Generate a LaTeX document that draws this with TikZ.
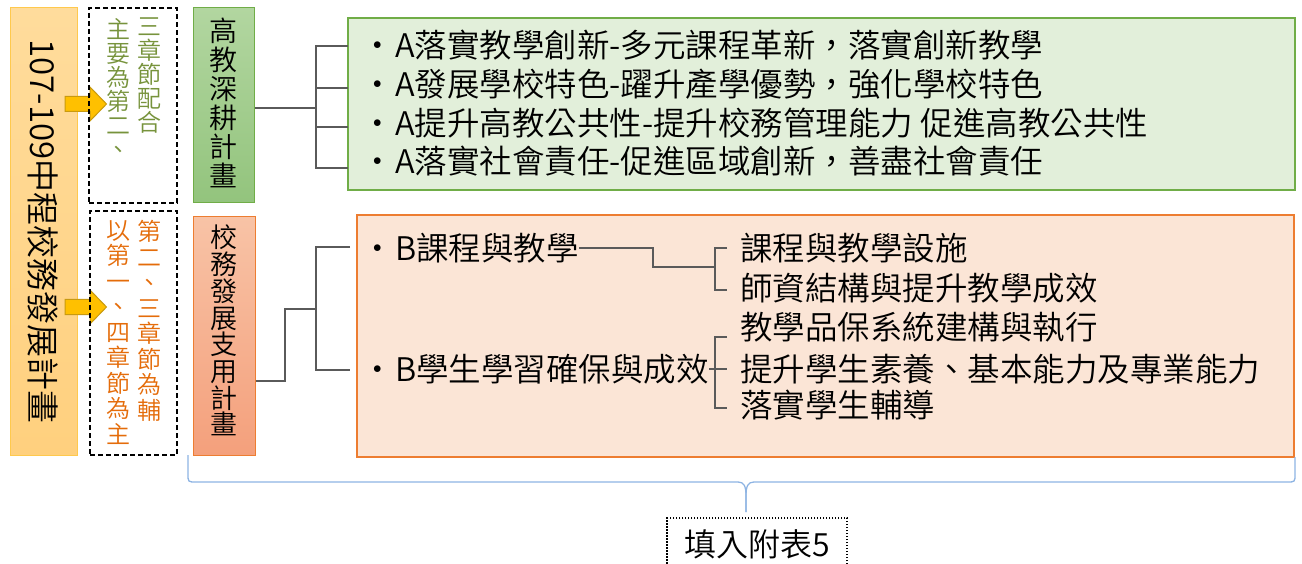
\documentclass[tikz,border=0pt]{standalone}
\usepackage{fontspec}
\IfFontExistsTF{Noto Sans CJK TC DemiLight}{\setmainfont{Noto Sans CJK TC DemiLight}}{\setmainfont{Noto Sans CJK TC}}
\usepackage{graphicx}
\definecolor{lborder}{HTML}{FFC94D}
\definecolor{ltop}{HTML}{FFDC9C}
\definecolor{lbot}{HTML}{FFD07E}
\definecolor{arrfill}{HTML}{FFC000}
\definecolor{arrline}{HTML}{C89A10}
\definecolor{gsmtop}{HTML}{B2D6A0}
\definecolor{gsmbot}{HTML}{93C47D}
\definecolor{gline}{HTML}{70AD47}
\definecolor{osmtop}{HTML}{F8C3A6}
\definecolor{osmbot}{HTML}{F4A07C}
\definecolor{oline}{HTML}{ED7D31}
\definecolor{gbigfill}{HTML}{E2EFDA}
\definecolor{obigfill}{HTML}{FBE5D6}
\definecolor{gtextc}{HTML}{77933C}
\definecolor{otextc}{HTML}{E46C0A}
\definecolor{connc}{HTML}{5A5A5A}
\definecolor{bracec}{HTML}{8EB4E3}
\newcommand{\bul}{\makebox[23pt][l]{\hspace{-11pt}•}}
\begin{document}
\lineskiplimit=-100pt
\begin{tikzpicture}[x=1pt,y=-1pt,
  conn/.style={draw=connc, line width=1.3pt},
  bracepath/.style={draw=bracec, line width=1.3pt},
  leftbox/.style={draw=lborder, line width=1pt, top color=ltop, bottom color=lbot, inner sep=0pt,
    minimum width=67pt, minimum height=447pt, font=\fontsize{33}{33}\selectfont},
  arrowshape/.style={fill=arrfill, draw=arrline, line width=1pt},
  dbox/.style={draw=black, line width=1.5pt, dash pattern=on 5pt off 3pt, inner sep=0pt},
  gsmall/.style={draw=gline, line width=1pt, top color=gsmtop, bottom color=gsmbot, inner sep=0pt},
  osmall/.style={draw=oline, line width=1pt, top color=osmtop, bottom color=osmbot, inner sep=0pt},
  gbig/.style={draw=gline, line width=2pt, fill=gbigfill, inner sep=0pt},
  obig/.style={draw=oline, line width=2pt, fill=obigfill, inner sep=0pt},
  colg/.style={text=gtextc, align=center, inner sep=0pt, anchor=north,
    font=\fontsize{24}{24}\selectfont},
  colo/.style={text=otextc, align=center, inner sep=0pt, anchor=north,
    font=\fontsize{24}{25.5}\selectfont},
  colbox/.style={text=black, align=center, inner sep=0pt, anchor=north},
  ltext/.style={text=black, inner sep=0pt, anchor=west, font=\fontsize{32.5}{39}\selectfont},
  notebox/.style={draw=black, line width=1.5pt, dash pattern=on 1.5pt off 1.5pt, inner sep=0pt,
    minimum width=180pt, minimum height=52pt, font=\fontsize{32}{32}\selectfont}
]
\useasboundingbox (0,0) rectangle (1302,564);
\clip (0,0) rectangle (1302,564);

% left main box
\node[leftbox] (plan) at (43.5,231.5) {\rotatebox{-90}{107-109中程校務發展計畫}};

% arrows
\draw[arrowshape] (65,96.5) -- (90,96.5) -- (90,87) -- (106.5,104) -- (90,121) -- (90,111.5) -- (65,111.5) -- cycle;
\draw[arrowshape] (65,299.5) -- (90,299.5) -- (90,290) -- (106.5,307) -- (90,324) -- (90,314.5) -- (65,314.5) -- cycle;

% dashed boxes
\node[dbox, minimum width=88pt, minimum height=195pt] (d1) at (133,105.5) {};
\node[dbox, minimum width=87pt, minimum height=244pt] (d2) at (133.5,333) {};
\node[colg] (d1r) at (149,18) {三\\章\\節\\配\\合};
\node[colg] (d1l) at (118,18) {主\\要\\為\\第\\二\\、};
\node[colo] (d2r) at (149,220) {第\\二\\、\\三\\章\\節\\為\\輔};
\node[colo] (d2l) at (118,220) {以\\第\\一\\、\\四\\章\\節\\為\\主};

% small coloured boxes
\node[gsmall, minimum width=61pt, minimum height=195pt] (gsm) at (223.5,105.5) {};
\node[colbox, font=\fontsize{28}{29}\selectfont] (gst) at (223.5,18) {高\\教\\深\\耕\\計\\畫};
\node[osmall, minimum width=62pt, minimum height=238pt] (osm) at (224,336) {};
\node[colbox, font=\fontsize{27}{26.7}\selectfont] (ost) at (224,225) {校\\務\\發\\展\\支\\用\\計\\畫};

% big boxes
\node[gbig, minimum width=947pt, minimum height=172pt] (gb) at (821.5,104) {};
\node[obig, minimum width=937pt, minimum height=241pt] (ob) at (825.5,336) {};

% top list
\node[ltext] (a1) at (372,45) {\bul A落實教學創新-多元課程革新，落實創新教學};
\node[ltext] (a2) at (372,84) {\bul A發展學校特色-躍升產學優勢，強化學校特色};
\node[ltext] (a3) at (372,123) {\bul A提升高教公共性-提升校務管理能力 促進高教公共性};
\node[ltext] (a4) at (372,161) {\bul A落實社會責任-促進區域創新，善盡社會責任};

% bottom list
\node[ltext] (b1) at (372,248) {\bul B課程與教學};
\node[ltext] (b2) at (372,369) {\bul B學生學習確保與成效};
\node[ltext] (c1) at (740,248) {課程與教學設施};
\node[ltext] (c2) at (740,288) {師資結構與提升教學成效};
\node[ltext] (c3) at (740,327) {教學品保系統建構與執行};
\node[ltext] (c4) at (740,369) {提升學生素養、基本能力及專業能力};
\node[ltext] (c5) at (740,405) {落實學生輔導};

% top tree
\coordinate (gj) at (316,108);
\coordinate (tb1) at (348,46);
\coordinate (tb2) at (348,88);
\coordinate (tb3) at (348,127);
\coordinate (tb4) at (348,168);
\draw[conn] (gsm.east |- gj) -- (gj);
\draw[conn] (tb1) -| (gj) |- (tb4);
\draw[conn] (tb2) -- (tb2 -| gj);
\draw[conn] (tb3) -- (tb3 -| gj);

% bottom tree
\coordinate (oj1) at (285,381);
\coordinate (oj2) at (316,309);
\coordinate (ob1) at (350,247);
\coordinate (ob2) at (350,370);
\draw[conn] (osm.east |- oj1) -- (oj1) |- (oj2);
\draw[conn] (ob1) -| (oj2) |- (ob2);

% inner brackets
\coordinate (bj1) at (653,267);
\coordinate (bk1) at (715,267);
\coordinate (q1t) at (727,248);
\coordinate (q1b) at (727,290);
\draw[conn] (b1.east) -| (bj1) -- (bk1);
\draw[conn] (q1t) -- (715,248) -- (715,290) -- (q1b);
\coordinate (q2t) at (727,337);
\coordinate (q2b) at (727,408);
\coordinate (q2m) at (727,371);
\draw[conn] (b2.east) -- (b2.east -| q2m);
\draw[conn] (q2t) -- (715,337) -- (715,408) -- (q2b);

% brace
\coordinate (brL) at (188,455);
\coordinate (brR) at (1295,457);
\coordinate (brT) at (746,512);
\draw[bracepath] (brL) -- (188,474) .. controls (188,482) .. (196,482) -- (738,482)
  .. controls (744,482) and (746,486) .. (746,496) -- (brT);
\draw[bracepath] (brT) -- (746,496) .. controls (746,486) and (748,482) .. (754,482) -- (1287,482)
  .. controls (1295,482) .. (1295,474) -- (brR);

% note box
\node[notebox] (note) at (757,544) {填入附表5};
\end{tikzpicture}
\end{document}
